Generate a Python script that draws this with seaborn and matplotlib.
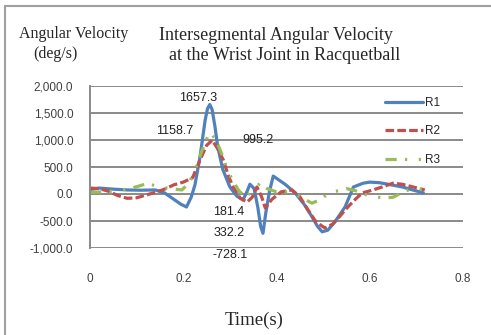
import matplotlib
matplotlib.use("Agg")
import matplotlib.pyplot as plt
from matplotlib.lines import Line2D
import seaborn as sns
import pandas as pd

# Wrist joint intersegmental angular velocity (deg/s) over time (s) for three trials
r1_time = [0.00, 0.02, 0.05, 0.08, 0.11, 0.14, 0.16, 0.18, 0.195, 0.207, 0.217, 0.225,
           0.236, 0.247, 0.252, 0.257, 0.262, 0.268, 0.274, 0.285, 0.30, 0.315, 0.328,
           0.336, 0.343, 0.352, 0.36, 0.366, 0.371, 0.377, 0.385, 0.393, 0.405, 0.42,
           0.44, 0.46, 0.476, 0.488, 0.498, 0.51, 0.525, 0.547, 0.565, 0.586, 0.60,
           0.62, 0.64, 0.67, 0.69, 0.715]
r1_vel = [80, 110, 90, 75, 70, 75, 20, -100, -190, -240, -60, 165,
          690, 1370, 1580, 1657.3, 1560, 1250, 870, 450, 130, -40, -110,
          30, 181.4, 100, -250, -600, -728.1, -350, 50, 332.2, 260, 170,
          20, -200, -420, -600, -700, -670, -520, -240, 130, 200, 220,
          210, 180, 130, 80, 20]

r2_time = [0.00, 0.02, 0.04, 0.06, 0.08, 0.10, 0.12, 0.14, 0.16, 0.18, 0.20, 0.22,
           0.236, 0.25, 0.262, 0.273, 0.286, 0.297, 0.307, 0.322, 0.337, 0.348,
           0.358, 0.368, 0.376, 0.39, 0.41, 0.433, 0.45, 0.468, 0.485, 0.504, 0.52,
           0.535, 0.553, 0.57, 0.584, 0.607, 0.63, 0.65, 0.67, 0.693, 0.718]
r2_vel = [110, 100, 50, -30, -80, -70, -20, 30, 90, 170, 220, 300,
          630, 900, 995.2, 850, 630, 330, 130, -75, -150, -60,
          130, -50, -260, -100, 40, 75, -50, -300, -520, -630, -560,
          -420, -240, -90, 20, 75, 140, 200, 180, 130, 75]

r3_time = [0.00, 0.03, 0.06, 0.09, 0.11, 0.124, 0.14, 0.17, 0.197, 0.212, 0.225,
           0.24, 0.257, 0.27, 0.28, 0.29, 0.305, 0.32, 0.335, 0.35, 0.365, 0.38,
           0.40, 0.433, 0.45, 0.476, 0.495, 0.515, 0.535, 0.55, 0.57, 0.59, 0.61,
           0.63, 0.65, 0.67, 0.693, 0.71, 0.72]
r3_vel = [30, 40, 60, 110, 160, 200, 150, 100, 75, 200, 440,
          800, 1158.7, 1000, 800, 560, 260, 50, -55, 80, 200, 100,
          40, 40, -50, -170, -100, 40, 60, 100, 60, -10, -50,
          -75, -60, 30, 110, 80, 60]

series_names = ["R1", "R2", "R3"]
series_colors = ["#4F81BD", "#C0504D", "#9BBB59"]

# Values written next to the curves and where each one sits (time, velocity)
value_labels = ["1657.3", "1158.7", "995.2", "181.4", "332.2", "-728.1"]
label_spots = [(0.232, 1778, "center"), (0.182, 1167, "center"), (0.360, 1000, "center"),
               (0.264, -333, "left"), (0.264, -722, "left"), (0.262, -1130, "left")]

y_ticks = [-1000, -500, 0, 500, 1000, 1500, 2000]
x_ticks = [0, 0.2, 0.4, 0.6, 0.8]
x_tick_labels = ["0", "0.2", "0.4", "0.6", "0.8"]

frames = []
for name, t, v in zip(series_names, [r1_time, r2_time, r3_time], [r1_vel, r2_vel, r3_vel]):
    frames.append(pd.DataFrame({"Time": t, "Velocity": v, "Series": name}))
df = pd.concat(frames, ignore_index=True)

sns.set_style("white")
plt.rcParams["font.family"] = ["Liberation Sans", "DejaVu Sans"]

fig = plt.figure(figsize=(4.91, 3.35), dpi=100)
ax = fig.add_axes([90 / 491, 1 - 248 / 335, 373 / 491, 162 / 335])

sns.lineplot(
    data=df, x="Time", y="Velocity", hue="Series", style="Series",
    palette=dict(zip(series_names, series_colors)),
    dashes={"R1": "", "R2": (2.7, 1.0), "R3": (3.5, 2.6, 0.7, 3.6, 0.7, 2.6)},
    estimator=None, sort=False, linewidth=2.3, ax=ax,
)

ax.set_xlim(0, 0.8)
ax.set_ylim(-1000, 2000)
ax.set_yticks(y_ticks)
ax.set_yticklabels([f"{v:,.1f}" for v in y_ticks])
ax.set_xticks(x_ticks)
ax.set_xticklabels(x_tick_labels)
ax.set_xlabel("")
ax.set_ylabel("")
ax.tick_params(axis="y", length=0, pad=12, labelsize=8.5, labelcolor="#404040")
ax.tick_params(axis="x", length=0, pad=18, labelsize=8.5, labelcolor="#404040")

ax.yaxis.grid(True, color="#8a8a8a", linewidth=1.4)
ax.xaxis.grid(False)
for side in ["top", "right", "bottom"]:
    ax.spines[side].set_visible(False)
ax.spines["left"].set_color("#8a8a8a")
ax.spines["left"].set_linewidth(1.4)

for text, (tx, vy, ha) in zip(value_labels, label_spots):
    ax.text(tx, vy, text, ha=ha, va="center", fontsize=9, color="#222222", clip_on=False)

handles, labels = ax.get_legend_handles_labels()
ax.legend(handles=handles, labels=labels, loc="upper left",
          bbox_to_anchor=(0.775, 0.97), frameon=False, fontsize=8.5,
          handlelength=3.2, handletextpad=0.15, labelspacing=1.4, borderpad=0)

serif = ["Liberation Serif", "DejaVu Serif"]
fig.text(276 / 491, 1 - 35 / 335, "Intersegmental Angular Velocity",
         ha="center", va="center", fontsize=13, family=serif)
fig.text(285 / 491, 1 - 55 / 335, "at the Wrist Joint in Racquetball",
         ha="center", va="center", fontsize=13, family=serif)
fig.text(74 / 491, 1 - 34 / 335, "Angular Velocity",
         ha="center", va="center", fontsize=11.5, family=serif)
fig.text(55 / 491, 1 - 54 / 335, "(deg/s)",
         ha="center", va="center", fontsize=11.5, family=serif)
fig.text(254 / 491, 1 - 320 / 335, "Time(s)",
         ha="center", va="center", fontsize=13.5, family=serif)

# Thin border along the left and top of the figure
fig.add_artist(Line2D([5 / 491, 5 / 491], [0, 1 - 6 / 335], transform=fig.transFigure,
                      color="#a0a0a0", linewidth=1.5))
fig.add_artist(Line2D([5 / 491, 1], [1 - 6 / 335, 1 - 6 / 335], transform=fig.transFigure,
                      color="#a0a0a0", linewidth=1.5))

fig.savefig("out.png", dpi=100)
